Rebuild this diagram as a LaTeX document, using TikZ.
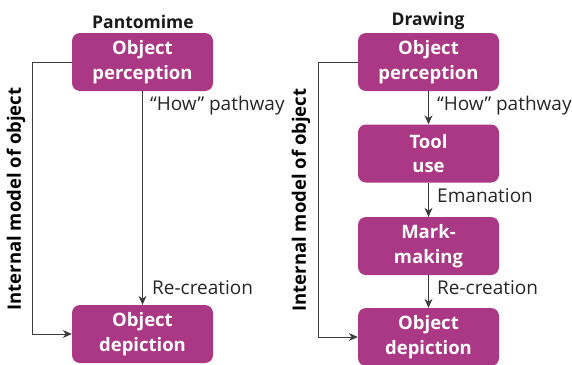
\documentclass[tikz,border=0pt]{standalone}
\usepackage{fontspec}
\setmainfont{Open Sans}
\usetikzlibrary{arrows.meta}
\definecolor{boxc}{RGB}{170,56,132}
\definecolor{linec}{RGB}{60,60,60}
\begin{document}
\begin{tikzpicture}[x=1pt,y=-1pt,
  box/.style={fill=boxc,draw=none,rounded corners=8pt,minimum width=141pt,minimum height=58pt,
    text=white,font=\fontsize{18.5}{24.5}\selectfont\bfseries,align=center,inner sep=0pt},
  title/.style={font=\fontsize{17.5}{20}\selectfont\bfseries,text=black!90},
  lab/.style={font=\fontsize{19}{22}\selectfont,text=black!85,anchor=west,inner sep=0pt},
  side/.style={font=\fontsize{18.5}{20}\selectfont\bfseries,rotate=90,text=black},
  arr/.style={draw=linec,line width=0.9pt,-{Stealth[length=9pt,width=8pt]}}]
\useasboundingbox (0,0) rectangle (572,364);
% left panel
\node[title] (t1) at (143,22) {Pantomime};
\node[box] (p1) at (142.5,62) {Object\\perception};
\node[box] (d1) at (142.5,334) {Object\\depiction};
\draw[arr] (p1.south) -- (d1.north);
\draw[arr] (p1.west) -- ++(-39,0) |- (d1.west);
\node[lab] (h1) at (150,106) {“How” pathway};
\node[lab] (r1) at (152,288) {Re-creation};
\node[side] (s1) at (16,199) {Internal model of object};
% right panel
\node[title] (t2) at (428,21) {Drawing};
\node[box] (p2) at (428.5,62) {Object\\perception};
\node[box] (u2) at (428.5,153.5) {Tool\\use};
\node[box] (m2) at (428.5,246) {Mark-\\making};
\node[box] (d2) at (428.5,337) {Object\\depiction};
\draw[arr] (p2.south) -- (u2.north);
\draw[arr] (u2.south) -- (m2.north);
\draw[arr] (m2.south) -- (d2.north);
\draw[arr] (p2.west) -- ++(-39,0) |- (d2.west);
\node[lab] (h2) at (437,106) {“How” pathway};
\node[lab] (e2) at (437,196) {Emanation};
\node[lab] (r2) at (437,288) {Re-creation};
\node[side] (s2) at (301,200) {Internal model of object};
\end{tikzpicture}
\end{document}
